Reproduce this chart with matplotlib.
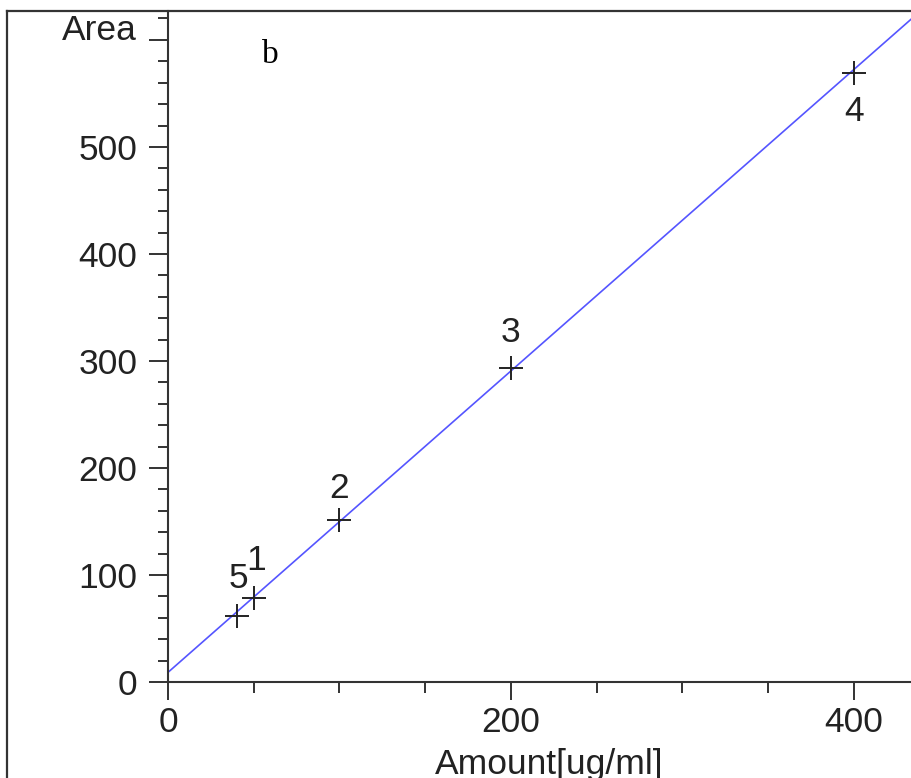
import matplotlib
matplotlib.use("Agg")
from matplotlib import pyplot as plt
from matplotlib.lines import Line2D
from matplotlib.ticker import MultipleLocator
import matplotlib.transforms as mtransforms
import numpy as np

# calibration data: amount [ug/ml] vs peak area
amounts = [50, 100, 200, 400, 40]
areas = [78.5, 151, 293, 569, 62]
point_labels = ["1", "2", "3", "4", "5"]

# fitted calibration line (as drawn in the reference)
fit_slope = 1.408
fit_intercept = 9.0

y_ticks = [0, 100, 200, 300, 400, 500, 600]
y_tick_labels = ["0", "100", "200", "300", "400", "500", ""]
x_ticks = [0, 200, 400]

plt.rcParams['font.family'] = ['Liberation Sans', 'DejaVu Sans']
ink = "#222222"
fs = 25.5

fig = plt.figure(figsize=(9.12, 7.78), dpi=100)
W, H = 912, 778
ax = fig.add_axes([168 / W, (H - 682) / H, (W - 168) / W, (682 - 11) / H])

ax.set_xlim(0, 434)
ax.set_ylim(0, 627)

xs = np.array([0, 434])
ax.plot(xs, fit_slope * xs + fit_intercept, color="#5555ff", lw=1.2, zorder=2)
ax.plot(amounts, areas, linestyle="none", marker="+", markersize=17,
        mew=1.4, color=ink, zorder=3)

# point labels: offsets in points (above, except point 4 below)
offsets = {"1": (2, 27), "2": (0, 23), "3": (0, 26), "4": (0, -28), "5": (1, 27)}
for x, y, lab in zip(amounts, areas, point_labels):
    ax.annotate(lab, (x, y), xytext=offsets[lab], textcoords="offset points",
                ha="center", va="center", fontsize=fs, color=ink)

for side in ["top", "right"]:
    ax.spines[side].set_visible(False)
for side in ["left", "bottom"]:
    ax.spines[side].set_linewidth(1.5)
    ax.spines[side].set_color("#333333")
ax.spines["left"].set_bounds(0, 627)

ax.set_yticks(y_ticks)
ax.set_yticklabels(y_tick_labels)
ax.yaxis.set_minor_locator(MultipleLocator(20))
ax.set_xticks(x_ticks)
ax.xaxis.set_minor_locator(MultipleLocator(50))
ax.tick_params(axis="y", which="major", length=14, width=1.4, pad=8,
               labelsize=fs, colors="#333333", labelcolor=ink)
ax.tick_params(axis="y", which="minor", length=7, width=1.4, colors="#333333")
ax.tick_params(axis="x", which="major", length=13, width=1.4, pad=4,
               labelsize=fs, colors="#333333", labelcolor=ink)
ax.tick_params(axis="x", which="minor", length=8, width=1.4, colors="#333333")

# y-axis title sits on the 600 tick, like a tick label
trans = mtransforms.blended_transform_factory(ax.transAxes, ax.transData)
ax.text(-31 / 744, 600, "Area", transform=trans, ha="right", va="baseline",
        fontsize=fs, color=ink)

fig.text(435 / W, 1 - 774 / H, "Amount[ug/ml]", ha="left", va="baseline",
         fontsize=fs, color=ink)
fig.text(270 / W, 1 - 55 / H, "b", ha="center", va="center", fontsize=24,
         family="Liberation Serif", color="black")

# outer frame, cut off at the right and bottom edges
fig.add_artist(Line2D([7 / W, 1], [1 - 11 / H, 1 - 11 / H], color="#333333",
                      lw=1.6, transform=fig.transFigure))
fig.add_artist(Line2D([7 / W, 7 / W], [0, 1 - 11 / H], color="#333333",
                      lw=1.6, transform=fig.transFigure))

fig.savefig("out.png", dpi=100)
